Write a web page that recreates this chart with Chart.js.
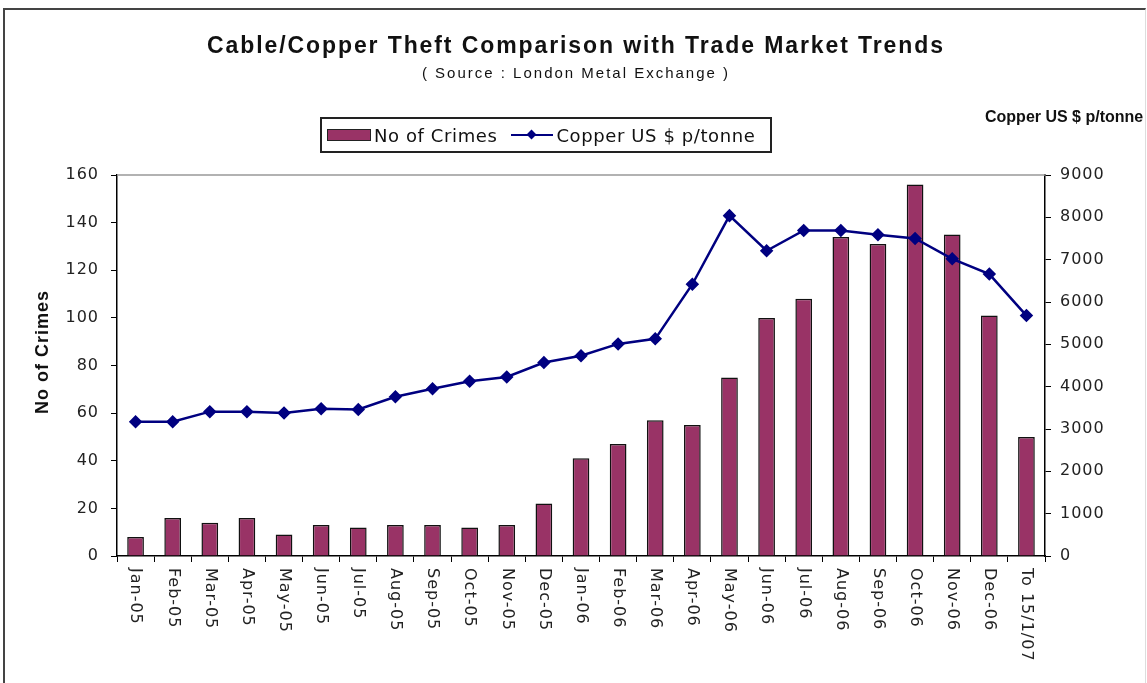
<!DOCTYPE html>
<html>
<head>
<meta charset="utf-8">
<script src="https://cdn.jsdelivr.net/npm/chart.js@4"></script>
<style>
  body { margin: 0; width: 1147px; height: 683px; overflow: hidden; background: #fff; position: relative; font-family: "Liberation Sans", Arial, sans-serif; color: #111; }
  #frame { position: absolute; left: 3px; top: 8px; width: 1140px; height: 700px; border-top: 2px solid #444; border-left: 2px solid #444; border-right: 1px solid #ddd; }
  #chart { position: absolute; left: 0; top: 0; }
  #title { position: absolute; left: 0; top: 32px; width: 1152px; text-align: center; font-weight: bold; font-size: 23px; letter-spacing: 1.9px; }
  #sub { position: absolute; left: 0; top: 64px; width: 1152px; text-align: center; font-size: 15px; letter-spacing: 2px; }
  #legend { position: absolute; left: 320px; top: 117px; width: 452px; height: 36px; box-sizing: border-box; border: 2px solid #222; display: flex; align-items: center; font-family: "DejaVu Sans", sans-serif; font-size: 18px; letter-spacing: 0.6px; }
  .swatch { width: 42px; height: 10px; background: #993366; border: 1px solid #222; margin-left: 5px; margin-right: 3px; }
  .lineKey { position: relative; width: 42px; height: 2px; background: #000080; margin-left: 14px; margin-right: 3px; }
  .lineKey i { position: absolute; left: 17px; top: -3px; width: 7px; height: 7px; background: #000080; transform: rotate(45deg); }
  #rtitle { position: absolute; left: 985px; top: 108px; font-weight: bold; font-size: 16px; }
  #ltitle { position: absolute; left: 42px; top: 352px; font-weight: bold; font-size: 18px; letter-spacing: 1px; transform: translate(-50%, -50%) rotate(-90deg); white-space: nowrap; }
</style>
</head>
<body>
<canvas id="chart" width="1147" height="683"></canvas>
<div id="frame"></div>
<div id="title">Cable/Copper Theft Comparison with Trade Market Trends</div>
<div id="sub">( Source : London Metal Exchange )</div>
<div id="legend"></div>
<div id="rtitle">Copper US $ p/tonne</div>
<div id="ltitle">No of Crimes</div>
<script>
const months = ['Jan-05', 'Feb-05', 'Mar-05', 'Apr-05', 'May-05', 'Jun-05', 'Jul-05', 'Aug-05',
  'Sep-05', 'Oct-05', 'Nov-05', 'Dec-05', 'Jan-06', 'Feb-06', 'Mar-06', 'Apr-06', 'May-06',
  'Jun-06', 'Jul-06', 'Aug-06', 'Sep-06', 'Oct-06', 'Nov-06', 'Dec-06', 'To 15/1/07'];

const crimes = [8, 16, 14, 16, 9, 13, 12, 13, 13, 12, 13, 22, 41, 47, 57, 55, 75,
  100, 108, 134, 131, 156, 135, 101, 50];

const copperPrice = [3170, 3170, 3410, 3410, 3380, 3480, 3460, 3760, 3950, 4130, 4230, 4570,
  4730, 5010, 5130, 6420, 8040, 7210, 7690, 7690, 7590, 7500, 7020, 6660, 5680];

const seriesNames = ['No of Crimes', 'Copper US $ p/tonne'];
const crimeAxisMax = 160;
const priceAxisMax = 9000;

// legend box above the plot
const legend = document.getElementById('legend');
legend.innerHTML =
  '<span class="swatch"></span><span>' + seriesNames[0] + '</span>' +
  '<span class="lineKey"><i></i></span><span>' + seriesNames[1] + '</span>';

const tickFont = { family: 'DejaVu Sans', size: 16 };

// x labels read top to bottom, so draw them by hand
const xLabels = {
  id: 'xLabels',
  beforeDraw(chart) {
    chart.ctx.letterSpacing = '1px';
  },
  afterDraw(chart) {
    const ctx = chart.ctx;
    const x = chart.scales.x;
    const area = chart.chartArea;
    ctx.save();
    // thin border along the top of the plot
    ctx.strokeStyle = '#999';
    ctx.lineWidth = 1.5;
    ctx.beginPath();
    ctx.moveTo(area.left, area.top);
    ctx.lineTo(area.right, area.top);
    ctx.stroke();

    ctx.fillStyle = '#222';
    ctx.font = '16px "DejaVu Sans"';
    ctx.textAlign = 'left';
    ctx.textBaseline = 'middle';
    months.forEach((m, i) => {
      ctx.save();
      ctx.translate(x.getPixelForTick(i), area.bottom + 12);
      ctx.rotate(Math.PI / 2);
      ctx.fillText(m, 0, 0);
      ctx.restore();
    });
    ctx.restore();
  }
};

new Chart(document.getElementById('chart'), {
  data: {
    labels: months,
    datasets: [
      {
        type: 'line',
        label: seriesNames[1],
        data: copperPrice,
        yAxisID: 'y1',
        borderColor: '#000080',
        backgroundColor: '#000080',
        borderWidth: 2.5,
        pointStyle: 'rectRot',
        pointRadius: 5,
        tension: 0,
        order: 0
      },
      {
        type: 'bar',
        label: seriesNames[0],
        data: crimes,
        yAxisID: 'y',
        backgroundColor: '#993366',
        borderColor: '#111',
        borderWidth: 1.5,
        barPercentage: 0.45,
        categoryPercentage: 1,
        order: 1
      }
    ]
  },
  options: {
    responsive: false,
    animation: false,
    devicePixelRatio: 1,
    layout: { padding: { top: 175, left: 0, right: 0, bottom: 0 } },
    plugins: {
      legend: { display: false },
      title: { display: false },
      tooltip: { enabled: false }
    },
    scales: {
      x: {
        offset: true,
        grid: { offset: true, drawOnChartArea: false, drawTicks: true, tickLength: 6, color: '#000' },
        border: { color: '#000', width: 1.5 },
        ticks: { display: false },
        afterFit(scale) { scale.height = 127; }
      },
      y: {
        position: 'left',
        min: 0,
        max: crimeAxisMax,
        ticks: { stepSize: 20, font: tickFont, color: '#222', padding: 12 },
        grid: { drawOnChartArea: false, tickLength: 6, color: '#000' },
        border: { color: '#000', width: 1.5 },
        afterFit(scale) { scale.width = 117; }
      },
      y1: {
        position: 'right',
        min: 0,
        max: priceAxisMax,
        ticks: { stepSize: 1000, font: tickFont, color: '#222', padding: 9, callback: v => String(v) },
        grid: { drawOnChartArea: false, tickLength: 6, color: '#000' },
        border: { color: '#000', width: 1.5 },
        afterFit(scale) { scale.width = 102; }
      }
    }
  },
  plugins: [xLabels]
});
</script>
</body>
</html>
